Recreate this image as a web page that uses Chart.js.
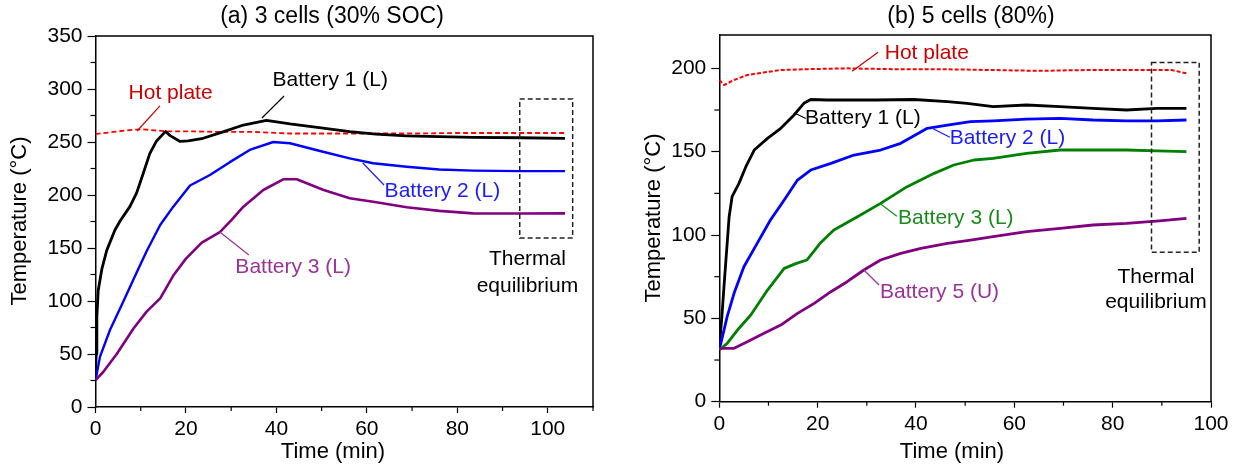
<!DOCTYPE html>
<html>
<head>
<meta charset="utf-8">
<script src="https://cdn.jsdelivr.net/npm/chart.js@4.4.1/dist/chart.umd.min.js"></script>
<style>
  html, body { margin: 0; padding: 0; background: #fff; }
  #wrap { position: relative; width: 1244px; height: 470px; }
  .panel { position: absolute; top: 0; height: 470px; }
  #panelA { left: 0; width: 620px; }
  #panelB { left: 620px; width: 624px; }
</style>
</head>
<body>
<div id="wrap">
  <div class="panel" id="panelA"><canvas id="chartA" width="620" height="470"></canvas></div>
  <div class="panel" id="panelB"><canvas id="chartB" width="624" height="470"></canvas></div>
</div>
<script>
// ---- panel (a): 3 cells, 30% SOC ----
const xTicksA = [0, 10, 20, 30, 40, 50, 60, 70, 80, 90, 100, 110];
const xLabelsA = [0, 20, 40, 60, 80, 100];
const yTicksA = [0, 25, 50, 75, 100, 125, 150, 175, 200, 225, 250, 275, 300, 325, 350];
const yLabelsA = [0, 50, 100, 150, 200, 250, 300, 350];

const hotTimeA = [0, 4, 8, 10.5, 13, 16, 22, 28, 35, 43, 50, 60, 70, 80, 90, 104];
const hotTempA = [257.5, 259.5, 261.5, 262, 261, 260, 260, 259.5, 259.5, 258, 258, 258, 258, 258.5, 258.5, 258.5];

const bat1TimeA = [0, 0.15, 0.3, 0.6, 1.4, 2.5, 4.3, 5.5, 7.6, 9.1, 10.6, 12, 13.5, 15.5, 16.5, 18.7, 20.5, 23.8, 28.2, 32.7, 37.8, 43, 50.3, 56.2, 62, 68.8, 76, 83.5, 94, 103.8];
const bat1TempA = [25, 50, 85, 110, 130, 148, 167, 176, 189, 202, 221, 239, 251, 260, 256, 250.5, 251, 253.5, 259.5, 266, 270.5, 267, 263, 259.7, 257.5, 255.7, 255, 254.4, 254, 253.5];

const bat2TimeA = [0, 1, 3.2, 6.1, 9.1, 11.3, 14.3, 17.2, 20.9, 25.3, 29.7, 34.1, 39.3, 43, 50.3, 56.2, 61.4, 68.8, 76, 83.5, 94, 103.8];
const bat2TempA = [25, 47.5, 72.6, 99, 127, 147, 171.7, 189, 209, 218.9, 231, 242.5, 250, 248.8, 240.8, 234.6, 230, 226.7, 224, 223, 222.5, 222.5];

const bat3TimeA = [0, 0.8, 1.7, 4.7, 8.4, 11.3, 14.3, 17.2, 20, 23.5, 27.5, 30, 32.7, 37.1, 41.5, 44.5, 50.3, 56.2, 61.4, 68.8, 76, 83.5, 94, 103.8];
const bat3TempA = [25, 29, 33, 50, 74, 90, 102.5, 124, 140, 155, 165, 176, 189, 204.7, 214.8, 214.8, 205, 197, 193.7, 188.4, 185, 182.7, 182.5, 182.7];

// ---- panel (b): 5 cells, 80% ----
const xTicksB = [0, 10, 20, 30, 40, 50, 60, 70, 80, 90, 100];
const xLabelsB = [0, 20, 40, 60, 80, 100];
const yTicksB = [0, 25, 50, 75, 100, 125, 150, 175, 200];
const yLabelsB = [0, 50, 100, 150, 200];

const hotTimeB = [0, 1, 3, 5.7, 9, 12.5, 18, 26, 35, 45, 55, 65, 75, 85, 92, 95];
const hotTempB = [193, 190, 193, 196, 197.5, 199, 199.5, 200, 199.5, 199.5, 199, 198.5, 199, 199, 199, 197];

const bat1TimeB = [0, 0.5, 1, 2, 2.6, 4, 5.4, 7.1, 9.8, 12.5, 15.2, 17.2, 18.6, 22, 26, 32, 39.6, 46.4, 50.4, 55.7, 62.5, 69.3, 76, 82.8, 89, 95];
const bat1TempB = [33, 50, 71, 111, 123, 131, 141, 151, 158, 164, 172, 179, 181.3, 181, 181, 181, 181.3, 180, 179, 177, 178, 177, 176, 175, 176, 176];

const bat2TimeB = [0, 1.6, 3, 5, 7.7, 10.4, 13.2, 15.9, 18.6, 22.7, 27.4, 32.8, 36.9, 42.3, 46.4, 51.1, 55.7, 62.5, 69.3, 76, 82.8, 89, 95];
const bat2TempB = [31, 51, 65, 81, 95, 109, 121, 133, 139, 143, 148, 151, 155, 164, 166, 168, 168.5, 169.5, 170, 169, 168.5, 168.5, 169];

const bat3TimeB = [0, 1.6, 3.7, 6.4, 9.8, 13.2, 15.7, 17.8, 20.5, 23.3, 28.1, 32.8, 38.2, 43.7, 47.7, 51.8, 55.7, 62.5, 69.3, 76, 82.8, 89, 95];
const bat3TempB = [31, 35, 43, 52, 67, 80, 83, 85, 95, 103, 111, 119, 129, 137, 142, 145, 146, 149, 151, 151, 151, 150.5, 150];

const bat5TimeB = [0, 3, 5.7, 9.1, 12.5, 15.9, 19.3, 22.7, 26, 29.4, 32.8, 36.9, 41, 46.4, 51.1, 55.7, 62.5, 69.3, 76, 82.8, 89.5, 95];
const bat5TempB = [32, 32, 36, 41, 46, 53, 59, 66, 72, 79, 85, 89, 92, 95, 97, 99, 102, 104, 106, 107, 108.5, 110];

const FONT = '"Liberation Sans", Arial, sans-serif';

function pts(times, temps) {
  return times.map((t, i) => ({ x: t, y: temps[i] }));
}

function line(times, temps, color, width, extra) {
  return Object.assign({
    data: pts(times, temps),
    showLine: true,
    borderColor: color,
    borderWidth: width,
    borderJoinStyle: 'round',
    pointRadius: 0,
    tension: 0
  }, extra || {});
}

// frame, minor ticks, dashed box, labels and leader lines
const decorPlugin = {
  id: 'decor',
  afterDraw(chart, args, o) {
    const { ctx, chartArea: a, scales: { x, y } } = chart;
    ctx.save();
    ctx.strokeStyle = '#000';
    ctx.lineWidth = 1.5;
    ctx.beginPath();
    ctx.moveTo(a.left, a.top); ctx.lineTo(a.right, a.top); ctx.lineTo(a.right, a.bottom);
    ctx.stroke();

    ctx.lineWidth = 1.2;
    o.xMinor.forEach(v => {
      const px = x.getPixelForValue(v);
      ctx.beginPath(); ctx.moveTo(px, a.bottom); ctx.lineTo(px, a.bottom + 4); ctx.stroke();
    });
    o.yMinor.forEach(v => {
      const py = y.getPixelForValue(v);
      ctx.beginPath(); ctx.moveTo(a.left, py); ctx.lineTo(a.left - 5, py); ctx.stroke();
    });

    // dashed box
    const b = o.box;
    ctx.setLineDash([5, 3]);
    ctx.strokeStyle = '#222';
    ctx.lineWidth = 1.5;
    const bx0 = x.getPixelForValue(b[0]), bx1 = x.getPixelForValue(b[1]);
    const by0 = y.getPixelForValue(b[2]), by1 = y.getPixelForValue(b[3]);
    ctx.strokeRect(bx0, by1, bx1 - bx0, by0 - by1);
    ctx.setLineDash([]);

    // labels with leaders
    ctx.textAlign = 'center';
    ctx.textBaseline = 'middle';
    o.labels.forEach(l => {
      ctx.fillStyle = l.color;
      ctx.strokeStyle = l.color;
      ctx.font = '21px ' + FONT;
      ctx.fillText(l.text, x.getPixelForValue(l.at[0]), y.getPixelForValue(l.at[1]));
      if (l.from) {
        ctx.lineWidth = 1.2;
        ctx.beginPath();
        ctx.moveTo(x.getPixelForValue(l.from[0]), y.getPixelForValue(l.from[1]));
        ctx.lineTo(x.getPixelForValue(l.to[0]), y.getPixelForValue(l.to[1]));
        ctx.stroke();
      }
    });

    // titles
    ctx.fillStyle = '#000';
    ctx.font = '23px ' + FONT;
    ctx.fillText(o.title, o.titlePos[0], o.titlePos[1]);
    ctx.font = '22px ' + FONT;
    ctx.fillText('Time (min)', o.xTitlePos[0], o.xTitlePos[1]);
    ctx.translate(o.yTitlePos[0], o.yTitlePos[1]);
    ctx.rotate(-Math.PI / 2);
    ctx.fillText('Temperature (°C)', 0, 0);
    ctx.restore();
  }
};

function axes(xMax, yMax, xTicks, xLabels, yTicks, yLabels, yWidth, xHeight) {
  const tickFont = { family: FONT, size: 21 };
  return {
    x: {
      type: 'linear', min: 0, max: xMax,
      afterFit: s => { s.height = xHeight; },
      afterBuildTicks: s => { s.ticks = xTicks.map(v => ({ value: v })); },
      ticks: { autoSkip: false, maxRotation: 0, color: '#000', font: tickFont, padding: 4,
               callback: v => xLabels.includes(v) ? String(v) : '' },
      grid: { drawOnChartArea: false, tickLength: 6, tickWidth: 1.2,
              tickColor: c => xLabels.includes(c.tick.value) ? '#000' : 'rgba(0,0,0,0)' },
      border: { color: '#000', width: 1.5 }
    },
    y: {
      type: 'linear', min: 0, max: yMax,
      afterFit: s => { s.width = yWidth; },
      afterBuildTicks: s => { s.ticks = yTicks.map(v => ({ value: v })); },
      ticks: { autoSkip: false, color: '#000', font: tickFont, padding: 5,
               callback: v => yLabels.includes(v) ? String(v) : '' },
      grid: { drawOnChartArea: false, tickLength: 8, tickWidth: 1.2,
              tickColor: c => yLabels.includes(c.tick.value) ? '#000' : 'rgba(0,0,0,0)' },
      border: { color: '#000', width: 1.5 }
    }
  };
}

new Chart(document.getElementById('chartA'), {
  type: 'scatter',
  data: {
    datasets: [
      line(bat3TimeA, bat3TempA, '#800080', 2.6),
      line(bat2TimeA, bat2TempA, '#0000ff', 2.4),
      line(bat1TimeA, bat1TempA, '#000000', 2.8),
      line(hotTimeA, hotTempA, '#ff0000', 1.8, { borderDash: [5, 3] })
    ]
  },
  options: {
    responsive: false, animation: false,
    layout: { padding: { left: 0, right: 27, top: 36, bottom: 0 } },
    plugins: {
      legend: { display: false }, tooltip: { enabled: false },
      decor: {
        xMinor: xTicksA.filter(v => !xLabelsA.includes(v)),
        yMinor: yTicksA.filter(v => !yLabelsA.includes(v)),
        box: [93.8, 105.5, 159.4, 290.6],
        title: '(a) 3 cells (30% SOC)', titlePos: [332, 17],
        xTitlePos: [333, 452], yTitlePos: [20, 221],
        labels: [
          { text: 'Hot plate', color: '#cc0000', at: [16.6, 296.2], from: [14.25, 284], to: [9.2, 260.4] },
          { text: 'Battery 1 (L)', color: '#000000', at: [51.9, 308.5], from: [41.7, 293.4], to: [36.8, 272.6] },
          { text: 'Battery 2 (L)', color: '#1a1aff', at: [76.7, 203.8], from: [63.8, 209.4], to: [59.1, 230.2] },
          { text: 'Battery 3 (L)', color: '#993399', at: [43.7, 132], from: [33.9, 143.4], to: [27.5, 165.1] },
          { text: 'Thermal', color: '#000000', at: [95.5, 139.6] },
          { text: 'equilibrium', color: '#000000', at: [95.5, 114.2] }
        ]
      }
    },
    scales: axes(110, 350, xTicksA, xLabelsA, yTicksA, yLabelsA, 95.5, 63)
  },
  plugins: [decorPlugin]
});

new Chart(document.getElementById('chartB'), {
  type: 'scatter',
  data: {
    datasets: [
      line(bat5TimeB, bat5TempB, '#800080', 2.8),
      line(bat3TimeB, bat3TempB, '#008000', 2.8),
      line(bat2TimeB, bat2TempB, '#0000ff', 2.8),
      line(bat1TimeB, bat1TempB, '#000000', 2.8),
      line(hotTimeB, hotTempB, '#ff0000', 2, { borderDash: [4, 2] })
    ]
  },
  options: {
    responsive: false, animation: false,
    layout: { padding: { left: 0, right: 33, top: 35, bottom: 0 } },
    plugins: {
      legend: { display: false }, tooltip: { enabled: false },
      decor: {
        xMinor: xTicksB.filter(v => !xLabelsB.includes(v)),
        yMinor: yTicksB.filter(v => !yLabelsB.includes(v)),
        box: [87.9, 97.6, 89.6, 203.5],
        title: '(b) 5 cells (80%)', titlePos: [351, 17],
        xTitlePos: [332, 452], yTitlePos: [34, 218],
        labels: [
          { text: 'Hot plate', color: '#cc0000', at: [42.2, 209], from: [32.3, 209.7], to: [27, 198.3] },
          { text: 'Battery 1 (L)', color: '#000000', at: [29.2, 170], from: [17.6, 169.9], to: [15.5, 172.9] },
          { text: 'Battery 2 (L)', color: '#1a1aff', at: [58.6, 158.1], from: [46.9, 158.7], to: [43.3, 164.1] },
          { text: 'Battery 3 (L)', color: '#1a8a1a', at: [48.1, 110.1], from: [36.1, 111.3], to: [32.9, 118.5] },
          { text: 'Battery 5 (U)', color: '#993399', at: [44.8, 65.8], from: [32.5, 70], to: [29.4, 79] },
          { text: 'Thermal', color: '#000000', at: [88.8, 74.8] },
          { text: 'equilibrium', color: '#000000', at: [88.8, 59.7] }
        ]
      }
    },
    scales: axes(100, 220, xTicksB, xLabelsB, yTicksB, yLabelsB, 99.3, 68.3)
  },
  plugins: [decorPlugin]
});
</script>
</body>
</html>
